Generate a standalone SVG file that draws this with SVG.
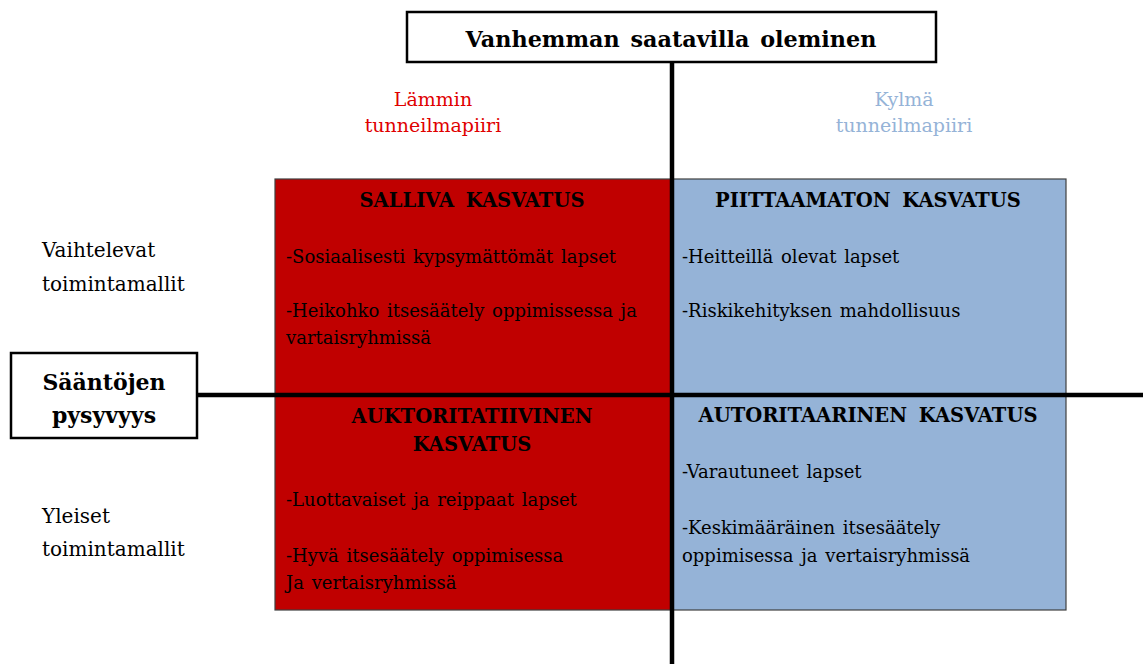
<svg xmlns="http://www.w3.org/2000/svg" width="1143" height="664" viewBox="0 0 1143 664">
<style>
text{font-family:'DejaVu Serif',serif;fill:#000}
.q{stroke:#404040;stroke-width:1.2}
.red{fill:#C00000}
.blue{fill:#95B3D7}
.h{font-size:19.5px;font-weight:bold;text-anchor:middle;word-spacing:5px}
.b{font-size:18px;word-spacing:2px}
.lbl{font-size:19px}
.side{font-size:20px}
.axis{stroke:#000;stroke-width:4.5;fill:none}
.box{fill:#fff;stroke:#000;stroke-width:2.5}
</style>
<rect width="1143" height="664" fill="#fff"/>
<g id="q-salliva">
<rect class="q red" x="275" y="179" width="397" height="215"/>
<text class="h" x="472" y="207">SALLIVA KASVATUS</text>
<text class="b" x="286" y="263">-Sosiaalisesti kypsymättömät lapset</text>
<text class="b" x="286" y="317">-Heikohko itsesäätely oppimissessa ja</text>
<text class="b" x="286" y="344">vartaisryhmissä</text>
</g>
<g id="q-piittaamaton">
<rect class="q blue" x="672" y="179" width="394" height="215"/>
<text class="h" x="868" y="207">PIITTAAMATON KASVATUS</text>
<text class="b" x="682" y="263">-Heitteillä olevat lapset</text>
<text class="b" x="682" y="317">-Riskikehityksen mahdollisuus</text>
</g>
<g id="q-auktoritatiivinen">
<rect class="q red" x="275" y="394" width="397" height="216"/>
<text class="h" x="472" y="423">AUKTORITATIIVINEN</text>
<text class="h" x="472" y="451">KASVATUS</text>
<text class="b" x="286" y="506">-Luottavaiset ja reippaat lapset</text>
<text class="b" x="286" y="562">-Hyvä itsesäätely oppimisessa</text>
<text class="b" x="286" y="589">Ja vertaisryhmissä</text>
</g>
<g id="q-autoritaarinen">
<rect class="q blue" x="672" y="394" width="394" height="216"/>
<text class="h" x="868" y="422">AUTORITAARINEN KASVATUS</text>
<text class="b" x="682" y="478">-Varautuneet lapset</text>
<text class="b" x="682" y="534">-Keskimääräinen itsesäätely</text>
<text class="b" x="682" y="562">oppimisessa ja vertaisryhmissä</text>
</g>
<g id="connectors">
<line class="axis" x1="672" y1="62" x2="672" y2="664"/>
<line class="axis" x1="197" y1="395" x2="1143" y2="395"/>
</g>
<g id="top-title">
<rect class="box" x="407" y="12" width="529" height="50"/>
<text x="671" y="47" style="font-size:22.3px;font-weight:bold;text-anchor:middle;word-spacing:3px">Vanhemman saatavilla oleminen</text>
</g>
<g id="left-title">
<rect class="box" x="11" y="353" width="186" height="85"/>
<text x="104" y="390" style="font-size:22px;font-weight:bold;text-anchor:middle">Sääntöjen</text>
<text x="104" y="423" style="font-size:22px;font-weight:bold;text-anchor:middle">pysyvyys</text>
</g>
<g id="warm">
<text class="lbl" x="433" y="106" style="fill:#E00000;text-anchor:middle">Lämmin</text>
<text class="lbl" x="433" y="132" style="fill:#E00000;text-anchor:middle">tunneilmapiiri</text>
</g>
<g id="cold">
<text class="lbl" x="904" y="106" style="fill:#95B3D7;text-anchor:middle">Kylmä</text>
<text class="lbl" x="904" y="132" style="fill:#95B3D7;text-anchor:middle">tunneilmapiiri</text>
</g>
<g id="varying">
<text class="side" x="42" y="257">Vaihtelevat</text>
<text class="side" x="42" y="291">toimintamallit</text>
</g>
<g id="general">
<text class="side" x="42" y="523">Yleiset</text>
<text class="side" x="42" y="556">toimintamallit</text>
</g>
</svg>
